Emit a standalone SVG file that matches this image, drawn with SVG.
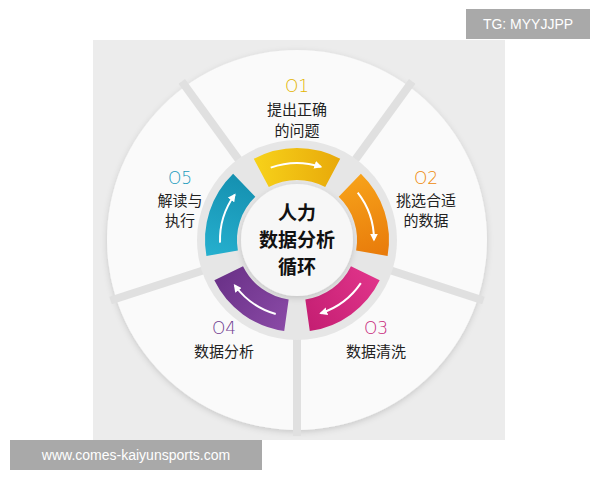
<svg xmlns="http://www.w3.org/2000/svg" width="600" height="480" viewBox="0 0 600 480">
<defs>
<style>
.t{font-family:"Liberation Sans","Noto Sans CJK SC",sans-serif;font-size:15px;fill:#222;text-anchor:middle}
.n{font-family:"DejaVu Sans","Liberation Sans",sans-serif;font-size:17px;font-weight:200;text-anchor:middle}
.c{font-family:"Noto Sans CJK SC",sans-serif;font-size:19px;font-weight:bold;fill:#111;text-anchor:middle}
.gap{stroke:#e0e0e0;stroke-width:8}
.arw{fill:none;stroke:#fff;stroke-width:2;marker-end:url(#ah)}
.wm{font-family:"Liberation Sans",sans-serif;font-size:14px;fill:#fff}
</style>
<marker id="ah" viewBox="0 0 10 10" refX="8" refY="5" markerWidth="4" markerHeight="4" orient="auto"><path d="M0,0 L10,5 L0,10 Z" fill="#fff"/></marker>
<linearGradient id="gy" x1="0" y1="0" x2="1" y2="0"><stop offset="0" stop-color="#f7d21a"/><stop offset="1" stop-color="#e8a90a"/></linearGradient>
<linearGradient id="go" x1="0" y1="0" x2="1" y2="0"><stop offset="0" stop-color="#f7a21a"/><stop offset="1" stop-color="#e87a0a"/></linearGradient>
<linearGradient id="gm" x1="0" y1="0" x2="1" y2="0"><stop offset="0" stop-color="#e0348a"/><stop offset="1" stop-color="#c41e72"/></linearGradient>
<linearGradient id="gp" x1="0" y1="0" x2="1" y2="0"><stop offset="0" stop-color="#8a4aa6"/><stop offset="1" stop-color="#6a3188"/></linearGradient>
<linearGradient id="gc" x1="0" y1="0" x2="1" y2="0"><stop offset="0" stop-color="#26b0cf"/><stop offset="1" stop-color="#1590b0"/></linearGradient>
<path id="seg" d="M -43.2 -81.2 A 92 92 0 0 1 43.2 -81.2 L 28.2 -53 A 60 60 0 0 0 -28.2 -53 Z"/>
<filter id="sh" x="-20%" y="-20%" width="140%" height="140%"><feDropShadow dx="0" dy="2" stdDeviation="3" flood-color="#000" flood-opacity="0.15"/></filter>
</defs>
<rect width="600" height="480" fill="#fff"/>
<rect x="93" y="40" width="412" height="400" fill="#ececec"/>
<g id="wheel" transform="translate(297,240)">
<circle r="190" fill="#fafafa" filter="url(#sh)"/>
<g id="gaps">
<line class="gap" x1="0" y1="-90" x2="0" y2="-196" transform="rotate(36)"/>
<line class="gap" x1="0" y1="-90" x2="0" y2="-196" transform="rotate(108)"/>
<line class="gap" x1="0" y1="-90" x2="0" y2="-196" transform="rotate(180)"/>
<line class="gap" x1="0" y1="-90" x2="0" y2="-196" transform="rotate(252)"/>
<line class="gap" x1="0" y1="-90" x2="0" y2="-196" transform="rotate(324)"/>
</g>
<circle r="100" fill="#e6e6e6"/>
<g id="arc1"><use href="#seg" fill="url(#gy)"/><path class="arw" d="M -26.3 -72.4 A 77 77 0 0 1 23.8 -73.2"/></g>
<g id="arc2" transform="rotate(72)"><use href="#seg" fill="url(#go)"/><path class="arw" d="M -26.3 -72.4 A 77 77 0 0 1 23.8 -73.2"/></g>
<g id="arc3" transform="rotate(144)"><use href="#seg" fill="url(#gm)"/><path class="arw" d="M -26.3 -72.4 A 77 77 0 0 1 23.8 -73.2"/></g>
<g id="arc4" transform="rotate(216)"><use href="#seg" fill="url(#gp)"/><path class="arw" d="M -26.3 -72.4 A 77 77 0 0 1 23.8 -73.2"/></g>
<g id="arc5" transform="rotate(288)"><use href="#seg" fill="url(#gc)"/><path class="arw" d="M -26.3 -72.4 A 77 77 0 0 1 23.8 -73.2"/></g>
<circle r="56" fill="#f7f7f7" filter="url(#sh)"/>
</g>
<g id="center"><text class="c" x="297" y="220">人力</text><text class="c" x="297" y="247">数据分析</text><text class="c" x="297" y="274">循环</text></g>
<g id="n1"><text class="n" x="297" y="92" fill="#e3b400">O1</text><text class="t" x="297" y="115">提出正确</text><text class="t" x="297" y="136">的问题</text></g>
<g id="n2"><text class="n" x="426" y="184" fill="#ee8a0a">O2</text><text class="t" x="426" y="206">挑选合适</text><text class="t" x="426" y="226">的数据</text></g>
<g id="n3"><text class="n" x="376" y="334" fill="#c8287a">O3</text><text class="t" x="376" y="357">数据清洗</text></g>
<g id="n4"><text class="n" x="224" y="334" fill="#6f3a90">O4</text><text class="t" x="224" y="357">数据分析</text></g>
<g id="n5"><text class="n" x="180" y="184" fill="#1b9bbd">O5</text><text class="t" x="180" y="206">解读与</text><text class="t" x="180" y="226">执行</text></g>
<rect x="466" y="9" width="124" height="30" fill="#a9a9a9"/>
<text class="wm" x="528" y="29" text-anchor="middle">TG: MYYJJPP</text>
<rect x="10" y="440" width="252" height="30" fill="#a9a9a9"/>
<text class="wm" x="136" y="460" text-anchor="middle">www.comes-kaiyunsports.com</text>
</svg>
